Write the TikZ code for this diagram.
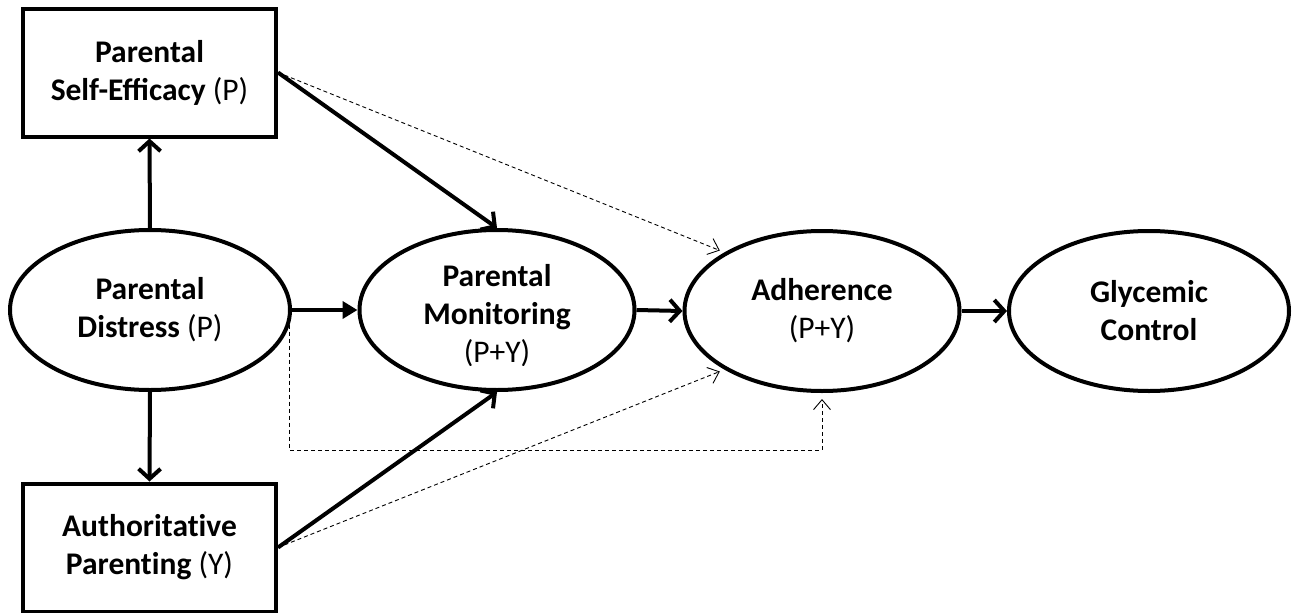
\documentclass[tikz,border=0pt]{standalone}
\usepackage{fontspec}
\setmainfont{Carlito}
\usetikzlibrary{shapes.geometric,arrows.meta}
\newcommand{\tibreak}{t\kern0pt i}
\begin{document}
\begin{tikzpicture}[x=1pt,y=-1pt,
  lbl/.style={font=\fontsize{31.5}{38}\selectfont, align=center},
  oval/.style={ellipse, draw, line width=4pt, inner sep=0pt, minimum width=278pt, minimum height=160pt, lbl},
  boxn/.style={rectangle, draw, line width=4pt, inner sep=0pt, minimum width=253pt, minimum height=128pt, lbl},
  solidarr/.style={line width=4pt, -{Straight Barb[length=10pt,width=22pt]}},
  triarr/.style={line width=4pt, -{Triangle[length=15pt,width=17pt]}},
  dasharr/.style={line width=0.9pt, dash pattern=on 4pt off 3pt, -{Straight Barb[length=10pt,width=17pt,line width=0.9pt]}}
]
\useasboundingbox (0,0) rectangle (1294,613);
\node[boxn] (se) at (149.5,72.5) {\textbf{Parental}\\\textbf{Self-Efficacy} (P)};
\node[boxn] (auth) at (149.5,547.5) {\textbf{Authorita\tibreak{}ve}\\\textbf{Paren\tibreak{}ng} (Y)};
\node[oval, minimum width=280pt] (dist) at (150,310) {\textbf{Parental}\\\textbf{Distress} (P)};
\node[oval, minimum width=275pt] (mon) at (497,310) {};
\begin{scope}
  \clip (380,240) rectangle (620,365);
  \node[lbl] (montext) at (497,316) {\textbf{Parental}\\\textbf{Monitoring}\\(P+Y)};
\end{scope}
\node[oval, minimum width=275pt] (adh) at (822,311) {\textbf{Adherence}\\(P+Y)};
\node[oval, minimum width=280pt] (gly) at (1149,311) {\textbf{Glycemic}\\\textbf{Control}};
\coordinate (low) at (0,450);

\draw[solidarr] (dist.north) -- (se.south);
\draw[solidarr] (dist.south) -- (auth.north);
\draw[triarr] (dist.east) -- (mon.west);
\draw[solidarr] (mon.east) -- (adh.west);
\draw[solidarr] (adh.east) -- (gly.west);
\draw[solidarr] (se.east) -- (mon.north);
\draw[solidarr] (auth.east) -- (mon.south);
\draw[dasharr, shorten >=5pt] (se.east) -- (adh.149);
\draw[dasharr, shorten >=5pt] (auth.east) -- (adh.211);
\draw[dasharr, shorten >=6pt] (dist.-6) |- (adh.south |- low) -- (adh.south);
\end{tikzpicture}
\end{document}
